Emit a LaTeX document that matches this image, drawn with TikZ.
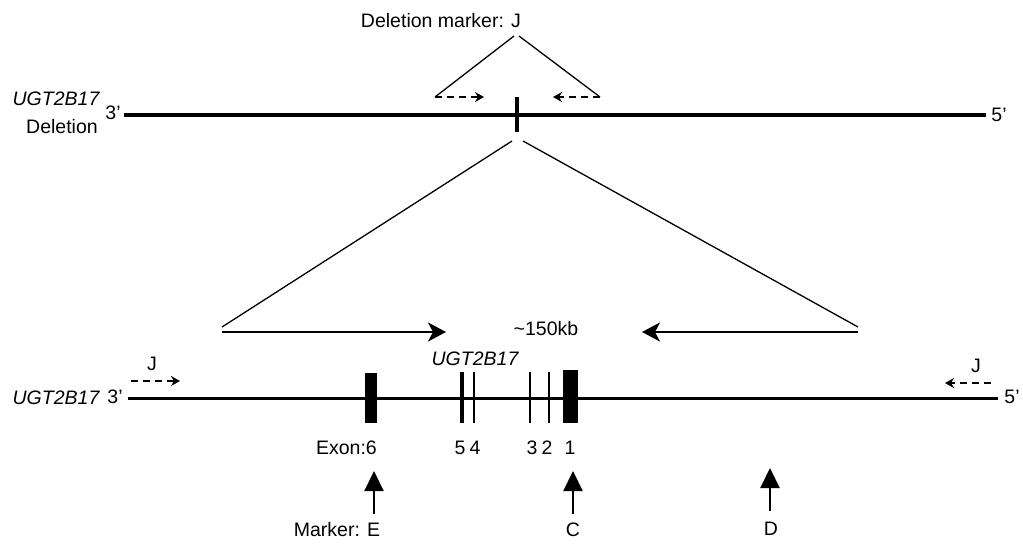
\documentclass[tikz,border=0pt]{standalone}
\usepackage{fontspec}
\setmainfont{Liberation Sans}
\usetikzlibrary{arrows.meta}
\begin{document}
\begin{tikzpicture}[x=1pt,y=-1pt,
  every node/.style={font=\fontsize{19.5}{22}\selectfont, inner sep=0pt},
  itlabel/.style={font=\fontsize{19.5}{22}\selectfont\itshape},
  chrom/.style={line width=4pt},
  thinline/.style={line width=1.3pt},
  spanarrow/.style={line width=2.2pt, -{Stealth[length=18pt,width=19pt,inset=5pt]}},
  primer/.style={line width=2.2pt, dash pattern=on 7pt off 5pt, -{Stealth[length=9pt,width=10pt,inset=3pt]}},
  markerarrow/.style={line width=2.2pt, -{Triangle[length=20pt,width=19pt]}},
  exonbox/.style={fill=black, draw=none},
  exonline/.style={line width=1.8pt},
  exonthick/.style={line width=4.5pt}]
\useasboundingbox (0,0) rectangle (1023,547);

% ---------- top (deletion) chromosome ----------
\node (dm) at (441,21) {Deletion marker: J};
\coordinate (apexL) at (514,36);
\coordinate (apexR) at (519,36);
\coordinate (pl1) at (435,97);
\coordinate (pl2) at (484,97);
\coordinate (pr1) at (600,97);
\coordinate (pr2) at (553,97);
\draw[thinline] (pl1) -- (apexL);
\draw[thinline] (pr1) -- (apexR);
\draw[primer] (pl1) -- (pl2);
\draw[primer] (pr1) -- (pr2);

\node[itlabel] (tname) at (56,99) {UGT2B17};
\node (tdel) at (62,127) {Deletion};
\node (t3) at (113,113) {3’};
\node (t5) at (999,115) {5’};
\coordinate (tL) at (124,115);
\coordinate (tR) at (986,115);
\draw[chrom] (tL) -- (tR);
\coordinate (tickT) at (517,97);
\coordinate (tickB) at (517,132);
\draw[line width=4.5pt] (tickT) -- (tickB);

% ---------- expansion lines ----------
\coordinate (exL0) at (512,141);
\coordinate (exR0) at (523,141);
\coordinate (exL1) at (222,327);
\coordinate (exR1) at (858,327);
\draw[thinline] (exL0) -- (exL1);
\draw[thinline] (exR0) -- (exR1);
\coordinate (aL) at (446,332);
\coordinate (aR) at (642,332);
\draw[spanarrow] (222,332) -- (aL);
\draw[spanarrow] (858,332) -- (aR);
\node (kb) at (546,329) {\textasciitilde150kb};

% ---------- bottom (full) chromosome ----------
\node[itlabel] (bname) at (56,398) {UGT2B17};
\node (b3) at (115,397) {3’};
\node (b5) at (1012,397) {5’};
\coordinate (bL) at (128,398);
\coordinate (bR) at (998,398);
\draw[line width=3pt] (bL) -- (bR);

\node (jl) at (152,364) {J};
\node (jr) at (976,366) {J};
\coordinate (jl1) at (131,381);
\coordinate (jl2) at (180,381);
\coordinate (jr1) at (991,383);
\coordinate (jr2) at (945,383);
\draw[primer] (jl1) -- (jl2);
\draw[primer] (jr1) -- (jr2);

\node[itlabel] (gname) at (475,359) {UGT2B17};

% exons
\node[exonbox, minimum width=12pt, minimum height=50pt] (e6) at (371,398) {};
\node[exonbox, minimum width=15pt, minimum height=53pt] (e1) at (570.5,396.5) {};
\draw[exonthick] (462,372) -- (462,423);
\draw[exonline] (474,372) -- (474,423);
\draw[exonline] (530,372) -- (530,423);
\draw[exonline] (549,372) -- (549,423);

% exon numbers
\node[anchor=east] (n6) at (377,448) {Exon:6};
\node (n5) at (460,448) {5};
\node (n4) at (475,448) {4};
\node (n3) at (532,448) {3};
\node (n2) at (547,448) {2};
\node (n1) at (570,448) {1};

% markers
\node (mE) at (337,530) {Marker: E};
\node (mC) at (573,530) {C};
\node (mD) at (771,529) {D};
\coordinate (uE0) at (374,514);
\coordinate (uE1) at (374,471);
\coordinate (uC0) at (573,514);
\coordinate (uC1) at (573,471);
\coordinate (uD0) at (770,511);
\coordinate (uD1) at (770,468);
\draw[markerarrow] (uE0) -- (uE1);
\draw[markerarrow] (uC0) -- (uC1);
\draw[markerarrow] (uD0) -- (uD1);
\end{tikzpicture}
\end{document}
